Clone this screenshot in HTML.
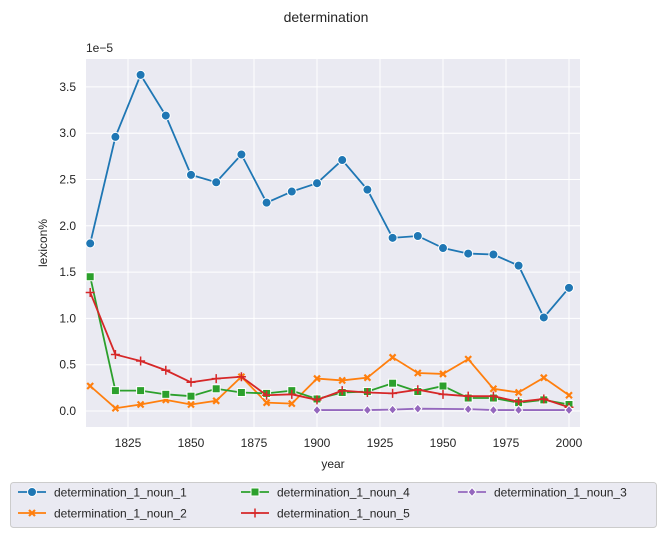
<!DOCTYPE html>
<html><head><meta charset="utf-8"><style>
body{margin:0;background:#fff;font-family:"Liberation Sans","DejaVu Sans",sans-serif;}
svg text{font-family:"Liberation Sans","DejaVu Sans",sans-serif;fill:#262626;}
</style></head><body>
<svg id="chart" width="665" height="537" xmlns="http://www.w3.org/2000/svg">
<text x="326" y="22" text-anchor="middle" font-size="14">determination</text>
<rect x="86" y="59" width="494" height="368" fill="#eaeaf2"/>
<g id="grid"></g><g id="ticks"></g><g id="series"></g>
<text x="86" y="52" font-size="12">1e−5</text>
<text x="333" y="468" text-anchor="middle" font-size="12">year</text>
<text x="47" y="243" text-anchor="middle" font-size="12" transform="rotate(-90 47 243)">lexicon%</text>
<g id="legend"></g>
</svg>
<script>
const years=[1810,1820,1830,1840,1850,1860,1870,1880,1890,1900,1910,1920,1930,1940,1950,1960,1970,1980,1990,2000];
const noun1=[1.81,2.96,3.63,3.19,2.55,2.47,2.77,2.25,2.37,2.46,2.71,2.39,1.87,1.89,1.76,1.70,1.69,1.57,1.01,1.33];
const noun2=[0.27,0.03,0.07,0.12,0.07,0.11,0.37,0.09,0.08,0.35,0.33,0.36,0.58,0.41,0.40,0.56,0.24,0.20,0.36,0.17];
const noun4=[1.45,0.22,0.22,0.18,0.16,0.24,0.20,0.19,0.22,0.13,0.20,0.21,0.30,0.21,0.27,0.14,0.14,0.09,0.12,0.07];
const noun5=[1.28,0.61,0.54,0.44,0.31,0.35,0.37,0.17,0.18,0.12,0.22,0.20,0.19,0.23,0.18,0.16,0.16,0.10,0.13,0.04];
const years3=[1900,1920,1930,1940,1960,1970,1980,2000];
const noun3=[0.01,0.01,0.015,0.025,0.02,0.01,0.01,0.01];
const xTicks=[1825,1850,1875,1900,1925,1950,1975,2000];
const yTicks=[0,0.5,1.0,1.5,2.0,2.5,3.0,3.5];
const NS="http://www.w3.org/2000/svg";
const x=v=>90.2+(v-1810)*63/25;
const y=v=>411-v*92.6;
function mk(tag,attrs,parent){const e=document.createElementNS(NS,tag);for(const k in attrs)e.setAttribute(k,attrs[k]);parent.appendChild(e);return e;}
const grid=document.getElementById('grid'),ticks=document.getElementById('ticks'),ser=document.getElementById('series'),leg=document.getElementById('legend');
xTicks.forEach(t=>{
 const l=mk('line',{x1:x(t),x2:x(t),y1:59,y2:427,stroke:'#fff','stroke-width':1},grid);
 
 
 const tx=mk('text',{x:x(t),y:447,'text-anchor':'middle','font-size':12},ticks);tx.textContent=t;
 
 
});
yTicks.forEach(t=>{
 const l=mk('line',{x1:86,x2:580,y1:y(t),y2:y(t),stroke:'#fff','stroke-width':1},grid);
 
 
 const tx=mk('text',{x:76,y:y(t)+4,'text-anchor':'end','font-size':12},ticks);tx.textContent=t.toFixed(1);
 
 
});
function marker(kind,cx,cy,color,parent){
 let e;
 if(kind==='o')e=mk('circle',{cx,cy,r:4.5,fill:color,stroke:'#fff','stroke-width':1},parent);
 else if(kind==='s')e=mk('rect',{x:cx-4,y:cy-4,width:8,height:8,fill:color,stroke:'#fff','stroke-width':1},parent);
 else if(kind==='d')e=mk('path',{d:`M${cx} ${cy-4.5}L${cx+4} ${cy}L${cx} ${cy+4.5}L${cx-4} ${cy}Z`,fill:color,stroke:'#fff','stroke-width':1},parent);
 else if(kind==='x'){e=mk('path',{d:`M${cx-3} ${cy-3}L${cx+3} ${cy+3}M${cx+3} ${cy-3}L${cx-3} ${cy+3}`,stroke:color,'stroke-width':2.2},parent);}
 else {e=mk('path',{d:`M${cx-4.5} ${cy}L${cx+4.5} ${cy}M${cx} ${cy-4.5}L${cx} ${cy+4.5}`,stroke:color,'stroke-width':1.5},parent);}
 return e;
}
const series=[
 {name:'determination_1_noun_1',xs:years,ys:noun1,c:'#1f77b4',m:'o'},
 {name:'determination_1_noun_2',xs:years,ys:noun2,c:'#ff7f0e',m:'x'},
 {name:'determination_1_noun_4',xs:years,ys:noun4,c:'#2ca02c',m:'s'},
 {name:'determination_1_noun_5',xs:years,ys:noun5,c:'#d62728',m:'+'},
 {name:'determination_1_noun_3',xs:years3,ys:noun3,c:'#9467bd',m:'d'}
];
series.forEach(s=>{
 const g=mk('g',{},ser);
 
 
 const p=mk('polyline',{points:s.xs.map((v,i)=>x(v)+','+y(s.ys[i])).join(' '),fill:'none',stroke:s.c,'stroke-width':1.8},g);
 
 
 s.xs.forEach((v,i)=>{const m=marker(s.m,x(v),y(s.ys[i]),s.c,g);
  
  });
});
mk('rect',{x:10.5,y:482.5,width:646,height:45,rx:3,fill:'#eaeaf2',stroke:'#cccccc'},leg);
const pos=[[18,492],[18,513],[241,492],[241,513],[458,492]];
series.forEach((s,i)=>{
 const [lx,ly]=pos[i];
 const g=mk('g',{},leg);
 
 
 mk('line',{x1:lx,x2:lx+28,y1:ly,y2:ly,stroke:s.c,'stroke-width':1.8},g);
 marker(s.m,lx+14,ly,s.c,g);
 const t=mk('text',{x:lx+36,y:ly+4.5,'font-size':12},g);t.textContent=s.name;
});
</script>
</body></html>
